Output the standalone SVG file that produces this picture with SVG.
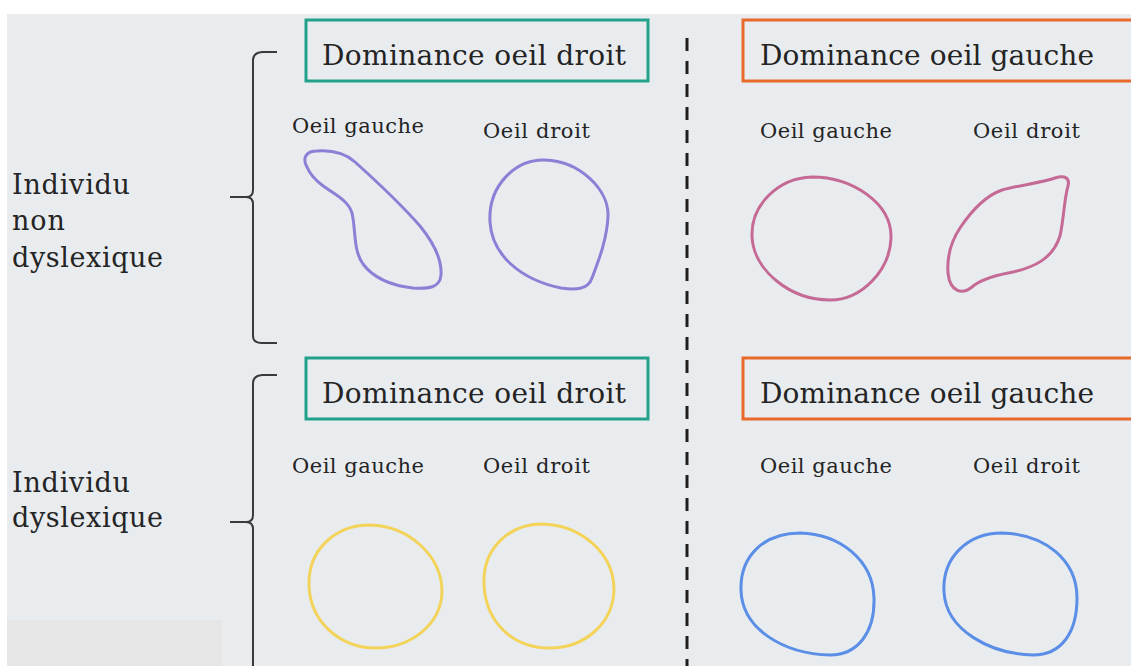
<svg xmlns="http://www.w3.org/2000/svg" width="1131" height="666" viewBox="0 0 1131 666">
<style>
.t{font-family:"DejaVu Serif","Liberation Serif",serif;fill:#242424}
.big{font-size:28px}
.lab{font-size:21px}
.side{font-size:27px}
.g{fill:none;stroke:#22a08b;stroke-width:3}
.o{fill:none;stroke:#e8692a;stroke-width:3}
.shape{fill:none;stroke-width:3;stroke-linejoin:round}
.brace{fill:none;stroke:#3a3a3a;stroke-width:2}
</style>
<rect x="0" y="0" width="1131" height="666" fill="#ffffff"/>
<rect x="7" y="14" width="1124" height="652" fill="#e9ecef"/>
<rect x="7" y="620" width="215" height="46" fill="#e6e6e6"/>

<g id="connectors">
<line x1="687" y1="38" x2="687" y2="666" stroke="#1e1e1e" stroke-width="3" stroke-dasharray="13 10"/>
<path class="brace" d="M277 52 L262 52 Q253 53 253 60 L253 190 Q253 197 246 197 L230 197 M246 197 Q253 197 253 204 L253 336 Q253 343 262 343 L277 343"/>
<path class="brace" d="M277 375 L262 375 Q253 376 253 383 L253 515 Q253 522 246 522 L230 522 M246 522 Q253 522 253 529 L253 666"/>
</g>

<g id="label-non-dyslexique">
<text class="t side" x="12" y="194" textLength="118">Individu</text>
<text class="t side" x="12" y="230" textLength="53">non</text>
<text class="t side" x="12" y="267" textLength="151">dyslexique</text>
</g>
<g id="label-dyslexique">
<text class="t side" x="12" y="492" textLength="118">Individu</text>
<text class="t side" x="12" y="527" textLength="151">dyslexique</text>
</g>

<g id="box-droit-top">
<rect class="g" x="306" y="20" width="342" height="61"/>
<text class="t big" x="322" y="65" textLength="304">Dominance oeil droit</text>
</g>
<g id="box-gauche-top">
<rect class="o" x="743" y="20" width="400" height="61"/>
<text class="t big" x="760" y="65" textLength="334">Dominance oeil gauche</text>
</g>
<g id="box-droit-bottom">
<rect class="g" x="306" y="358" width="342" height="61"/>
<text class="t big" x="322" y="403" textLength="304">Dominance oeil droit</text>
</g>
<g id="box-gauche-bottom">
<rect class="o" x="743" y="358" width="400" height="61"/>
<text class="t big" x="760" y="403" textLength="334">Dominance oeil gauche</text>
</g>

<g id="nd-droit-gauche">
<text class="t lab" x="292" y="133" textLength="132">Oeil gauche</text>
<path class="shape" stroke="#8b7fd6" d="M307 167 C302 158 306 151 317 151 C332 150 345 153 355 162 C375 180 400 203 420 226 C433 242 442 260 441 275 C440 288 428 289 413 288 C395 286 375 280 363 264 C353 250 356 230 352 213 C348 200 335 195 322 185 C314 179 309 172 307 167 Z"/>
<text class="t lab" x="483" y="138" textLength="107">Oeil droit</text>
<path class="shape" stroke="#8b7fd6" d="M490 222 C488 186 515 159 545 160 C580 161 609 190 608 216 C607 240 598 262 592 278 C588 290 575 290 561 288 C522 280 492 256 490 222 Z"/>
</g>

<g id="nd-gauche-gauche">
<text class="t lab" x="760" y="138" textLength="132">Oeil gauche</text>
<path class="shape" stroke="#c56a94" d="M752 236 C751 205 778 178 812 177 C852 177 892 203 891 238 C890 270 862 300 830 300 C790 300 753 270 752 236 Z"/>
<text class="t lab" x="973" y="138" textLength="107">Oeil droit</text>
<path class="shape" stroke="#c56a94" d="M948 273 C947 258 950 243 960 228 C972 210 985 196 1002 190 C1020 185 1040 183 1055 178 C1065 175 1070 178 1068 186 C1064 200 1064 218 1060 236 C1053 258 1035 268 1008 273 C993 276 980 280 972 287 C962 295 950 292 948 273 Z"/>
</g>

<g id="d-droit">
<text class="t lab" x="292" y="473" textLength="132">Oeil gauche</text>
<path class="shape" stroke="#f3d35a" d="M309 585 C308 550 335 525 370 525 C408 526 442 555 442 592 C441 625 410 648 376 648 C340 648 310 622 309 585 Z"/>
<text class="t lab" x="483" y="473" textLength="107">Oeil droit</text>
<path class="shape" stroke="#f3d35a" d="M484 585 C482 548 510 524 542 524 C580 525 614 552 614 590 C613 624 584 648 550 648 C512 648 486 622 484 585 Z"/>
</g>

<g id="d-gauche">
<text class="t lab" x="760" y="473" textLength="132">Oeil gauche</text>
<path class="shape" stroke="#5b8ee6" d="M741 590 C740 555 765 533 800 533 C840 534 873 560 874 598 C875 632 858 655 830 655 C785 654 742 630 741 590 Z"/>
<text class="t lab" x="973" y="473" textLength="107">Oeil droit</text>
<path class="shape" stroke="#5b8ee6" d="M944 592 C942 557 968 533 1002 533 C1045 534 1077 560 1077 598 C1077 632 1062 655 1033 655 C990 654 946 630 944 592 Z"/>
</g>
</svg>
